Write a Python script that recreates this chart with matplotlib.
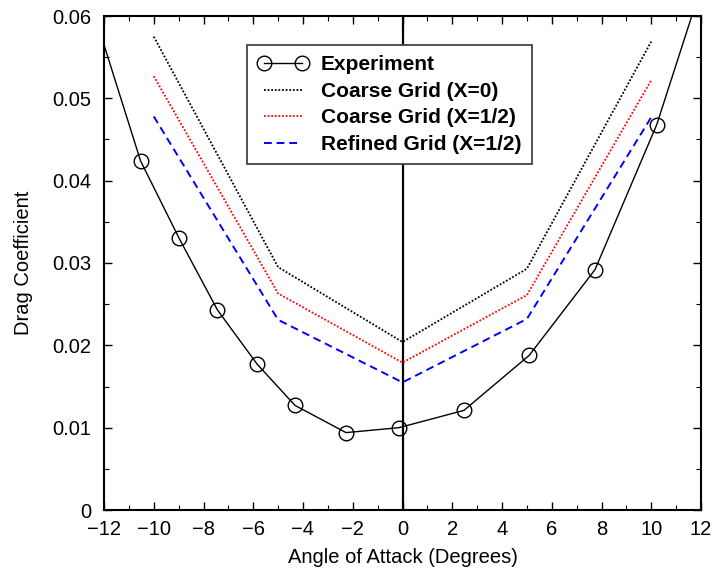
import matplotlib
matplotlib.use("Agg")
import matplotlib.pyplot as plt
from matplotlib.lines import Line2D
from matplotlib.ticker import MultipleLocator

plt.rcParams["font.family"] = ["Liberation Sans", "DejaVu Sans"]

# experiment: measured points and the curve drawn through them (runs off the axes)
exp_alpha = [-10.53, -8.98, -7.44, -5.84, -4.32, -2.27, -0.14, 2.47, 5.10, 7.74, 10.22]
exp_cd = [0.0424, 0.0330, 0.0243, 0.0177, 0.0127, 0.0094, 0.0100, 0.0121, 0.0188, 0.0292, 0.0468]
curve_alpha = [-12.0] + exp_alpha + [11.63]
curve_cd = [0.0565] + exp_cd + [0.0600]

# computed results
cfd_alpha = [-10, -5, 0, 5, 10]
coarse_x0 = [0.0575, 0.0295, 0.0204, 0.0293, 0.0569]
coarse_xhalf = [0.0527, 0.0263, 0.0179, 0.0261, 0.0522]
refined_xhalf = [0.0478, 0.0231, 0.0155, 0.0232, 0.0477]

x_ticks = [-12, -10, -8, -6, -4, -2, 0, 2, 4, 6, 8, 10, 12]
y_ticks = [0, 0.01, 0.02, 0.03, 0.04, 0.05, 0.06]
y_tick_labels = ["0", "0.01", "0.02", "0.03", "0.04", "0.05", "0.06"]

fig = plt.figure(figsize=(7.14, 5.72), dpi=100)
ax = fig.add_axes([104 / 714, 1 - 510 / 572, 597 / 714, 494 / 572])

ax.axvline(0, color="black", lw=1.6, zorder=1)

ax.plot(curve_alpha, curve_cd, color="black", lw=1.0, zorder=3)
ax.plot(exp_alpha, exp_cd, linestyle="none", marker="o", ms=10.5,
        mfc="none", mec="black", mew=1.0, zorder=4)
ax.plot(cfd_alpha, coarse_x0, color="black", lw=1.3, linestyle=(0, (1, 1)), zorder=3)
ax.plot(cfd_alpha, coarse_xhalf, color="red", lw=1.3, linestyle=(0, (1, 1)), zorder=3)
ax.plot(cfd_alpha, refined_xhalf, color="blue", lw=1.4, linestyle=(0, (4, 2.5)), zorder=3)

ax.set_xlim(-12, 12)
ax.set_ylim(0, 0.06)
ax.set_xticks(x_ticks)
ax.xaxis.set_minor_locator(MultipleLocator(1))
ax.set_yticks(y_ticks)
ax.set_yticklabels(y_tick_labels)
ax.yaxis.set_minor_locator(MultipleLocator(0.005))

ax.tick_params(which="both", direction="in", top=True, right=True, labelsize=14.5)
ax.tick_params(which="major", length=6, width=1.0)
ax.tick_params(which="minor", length=3.5, width=0.8)
ax.tick_params(axis="x", pad=7)
ax.tick_params(axis="y", pad=9)
for s in ax.spines.values():
    s.set_linewidth(1.5)

ax.set_xlabel("Angle of Attack (Degrees)", fontsize=14.5, labelpad=7)
ax.set_ylabel("Drag Coefficient", fontsize=14.5, labelpad=14)

handles = [
    Line2D([], [], color="black", lw=1.0, marker="o", ms=10.5, mfc="none", mew=1.0),
    Line2D([], [], color="black", lw=1.3, linestyle=(0, (1, 1))),
    Line2D([], [], color="red", lw=1.3, linestyle=(0, (1, 1))),
    Line2D([], [], color="blue", lw=1.4, linestyle=(0, (4, 2.5))),
]
labels = ["Experiment", "Coarse Grid (X=0)", "Coarse Grid (X=1/2)", "Refined Grid (X=1/2)"]
leg = ax.legend(handles, labels, loc="upper left", bbox_to_anchor=(0.2395, 0.9413),
                borderaxespad=0, numpoints=2, handlelength=2.45, handletextpad=0.6,
                labelspacing=0.36, borderpad=0.5, fancybox=False, framealpha=1,
                edgecolor="#444444", prop={"weight": "bold", "size": 15})
leg.get_frame().set_linewidth(1.3)
leg.set_zorder(5)

fig.savefig("out.png", dpi=100)
